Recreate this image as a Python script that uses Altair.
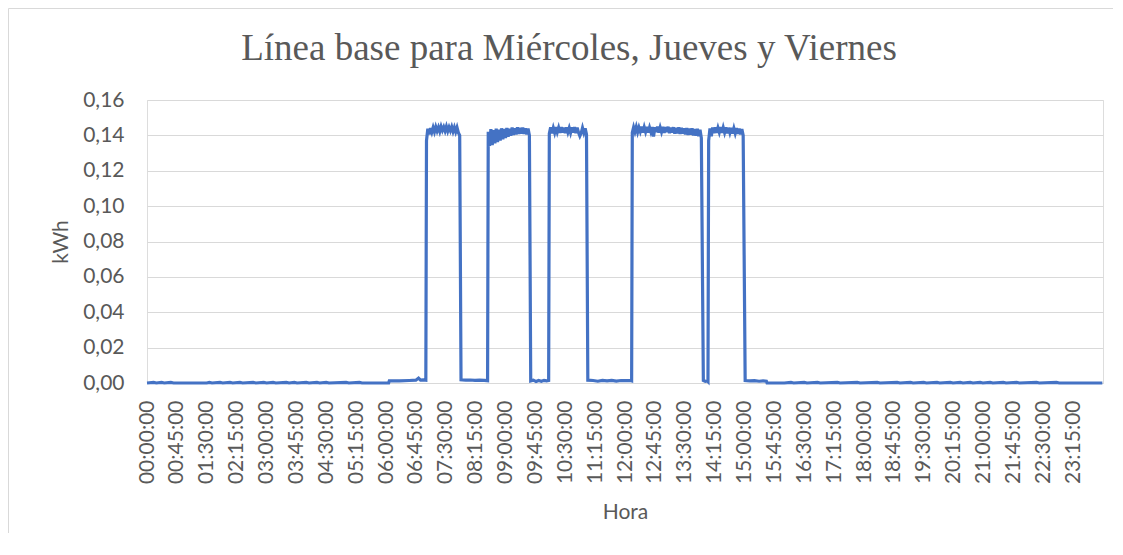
import altair as alt
import pandas as pd

# ---- low-load readings (minutes since midnight, kWh) ----
LOW_MIN = [
    0, 10, 14, 22, 26, 36, 40, 90, 94, 98, 110, 114, 125, 129, 140, 144, 160, 164,
    176, 180, 190, 194, 210, 214, 222, 226, 240, 244, 256, 260, 270, 274, 300, 304,
    320, 324, 364,
    365, 380, 395, 405, 409, 412, 416, 420,
    473, 480, 487, 494, 501, 508, 513,
    578, 582, 586, 590, 594, 598, 602, 605,
    664, 672, 679, 686, 693, 700, 707, 714, 721, 728, 730,
    838, 841, 844, 845,
    901, 908, 915, 922, 928, 933,
    934, 960, 970, 974, 990, 994, 1010, 1014, 1040, 1044, 1070, 1074, 1100, 1104,
    1130, 1134, 1150, 1154, 1170, 1174, 1190, 1194, 1210, 1214, 1225, 1229, 1240,
    1244, 1255, 1259, 1270, 1274, 1290, 1294, 1310, 1314, 1340, 1344, 1370, 1374,
    1439,
]
LOW_KWH = [
    0, 0.0003, 0, 0.0003, 0, 0.0003, 0, 0, 0.0003, 0, 0.0003, 0, 0.0003, 0, 0.0003, 0, 0.0003, 0,
    0.0003, 0, 0.0003, 0, 0.0003, 0, 0.0003, 0, 0.0003, 0, 0.0003, 0, 0.0003, 0, 0.0003, 0,
    0.0003, 0, 0,
    0.0012, 0.0012, 0.0014, 0.0016, 0.0028, 0.0016, 0.0018, 0.0016,
    0.0018, 0.0016, 0.0017, 0.0015, 0.0016, 0.0015, 0.0013,
    0.0012, 0.0016, 0.0008, 0.0014, 0.0010, 0.0015, 0.0012, 0.0014,
    0.0016, 0.0014, 0.0010, 0.0015, 0.0012, 0.0015, 0.0011, 0.0014, 0.0013, 0.0014, 0.0012,
    0.0015, 0.0010, 0.0012, 0.0008,
    0.0014, 0.0012, 0.0013, 0.0010, 0.0012, 0.0010,
    0, 0, 0.0003, 0, 0.0003, 0, 0.0003, 0, 0.0003, 0, 0.0003, 0, 0.0003, 0,
    0.0003, 0, 0.0003, 0, 0.0003, 0, 0.0003, 0, 0.0003, 0, 0.0003, 0, 0.0003,
    0, 0.0003, 0, 0.0003, 0, 0.0003, 0, 0.0003, 0, 0.0003, 0, 0.0003, 0,
    0,
]

# ---- high-load blocks: start minute, then one reading every 2 minutes ----
P1_START = 421
P1_KWH = [0.1370, 0.1438, 0.1405, 0.1442, 0.1418, 0.1445, 0.1420, 0.1448, 0.1425, 0.1446,
          0.1422, 0.1450, 0.1428, 0.1447, 0.1425, 0.1450, 0.1424, 0.1446, 0.1426, 0.1448,
          0.1422, 0.1445, 0.1420, 0.1444, 0.1415, 0.1400]
P2_START = 514
P2_KWH = [0.1420, 0.1340, 0.1435, 0.1345, 0.1430, 0.1355, 0.1438, 0.1362, 0.1432, 0.1370,
          0.1440, 0.1378, 0.1436, 0.1385, 0.1442, 0.1392, 0.1438, 0.1398, 0.1444, 0.1402,
          0.1440, 0.1405, 0.1445, 0.1408, 0.1442, 0.1410, 0.1444, 0.1408, 0.1440, 0.1405,
          0.1438, 0.1400]
P3_START = 606
P3_KWH = [0.1410, 0.1445, 0.1412, 0.1442, 0.1415, 0.1446, 0.1418, 0.1443, 0.1414, 0.1447,
          0.1416, 0.1444, 0.1412, 0.1446, 0.1418, 0.1442, 0.1415, 0.1445, 0.1415, 0.1447,
          0.1412, 0.1444, 0.1416, 0.1396, 0.1413, 0.1443, 0.1415, 0.1440, 0.1405]
P4_START = 731
P4_KWH = [0.1415, 0.1446, 0.1420, 0.1448, 0.1418, 0.1445, 0.1422, 0.1449, 0.1416, 0.1446,
          0.1420, 0.1448, 0.1415, 0.1444, 0.1419, 0.1447, 0.1394, 0.1446, 0.1418, 0.1450,
          0.1416, 0.1445, 0.1420, 0.1448, 0.1414, 0.1446, 0.1418, 0.1449, 0.1412, 0.1444,
          0.1415, 0.1446, 0.1410, 0.1443, 0.1412, 0.1445, 0.1408, 0.1442, 0.1410, 0.1440,
          0.1405, 0.1441, 0.1402, 0.1438, 0.1404, 0.1440, 0.1400, 0.1436, 0.1398, 0.1437,
          0.1395, 0.1432, 0.1385]
P5_START = 846
P5_KWH = [0.1370, 0.1440, 0.1395, 0.1445, 0.1412, 0.1446, 0.1415, 0.1443, 0.1418, 0.1447,
          0.1414, 0.1444, 0.1416, 0.1445, 0.1412, 0.1443, 0.1415, 0.1442, 0.1410, 0.1440,
          0.1412, 0.1441, 0.1408, 0.1438, 0.1405, 0.1436, 0.1400]

TICK_MINUTES = [i * 45 for i in range(32)]
Y_TICKS = [0, 0.02, 0.04, 0.06, 0.08, 0.10, 0.12, 0.14, 0.16]

TITLE = "Línea base para Miércoles, Jueves y Viernes"
X_TITLE = "Hora"
Y_TITLE = "kWh"

rows = list(zip(LOW_MIN, LOW_KWH))
for start, vals in [(P1_START, P1_KWH), (P2_START, P2_KWH), (P3_START, P3_KWH),
                    (P4_START, P4_KWH), (P5_START, P5_KWH)]:
    rows += [(start + 2 * i, v) for i, v in enumerate(vals)]
df = pd.DataFrame(rows, columns=["min", "kwh"]).sort_values("min").reset_index(drop=True)

GRAY_TXT = "#595959"
GRID = "#d9d9d9"
FONT = "Lato"

x_label_expr = (
    "(floor(datum.value/60) < 10 ? '0' : '') + floor(datum.value/60) + ':' + "
    "((datum.value % 60) < 10 ? '0' : '') + (datum.value % 60) + ':00'"
)

line = alt.Chart(df).mark_line(color="#4472C4", strokeWidth=3.2).encode(
    x=alt.X(
        "min:Q",
        sort=None,
        scale=alt.Scale(domain=[0, 1440], nice=False, zero=False),
        axis=alt.Axis(
            values=TICK_MINUTES,
            labelExpr=x_label_expr,
            labelAngle=270,
            labelPadding=17,
            labelFont=FONT,
            labelFontSize=21,
            labelColor=GRAY_TXT,
            labelOverlap=False,
            labelFlush=False,
            ticks=False,
            grid=False,
            domain=True,
            domainColor=GRID,
            domainWidth=1,
            title=X_TITLE,
            titleFont=FONT,
            titleFontSize=21,
            titleFontWeight="normal",
            titleColor=GRAY_TXT,
            titleBaseline="alphabetic",
            titleY=135,
        ),
    ),
    y=alt.Y(
        "kwh:Q",
        scale=alt.Scale(domain=[0, 0.16], nice=False),
        axis=alt.Axis(
            values=Y_TICKS,
            labelExpr="replace(format(datum.value, '.2f'), '.', ',')",
            labelPadding=23,
            labelFont=FONT,
            labelFontSize=21,
            labelColor=GRAY_TXT,
            ticks=False,
            domain=False,
            grid=True,
            gridColor=GRID,
            gridWidth=1,
            title=Y_TITLE,
            titleFont=FONT,
            titleFontSize=21,
            titleFontWeight="normal",
            titleColor=GRAY_TXT,
            titleBaseline="alphabetic",
            titleX=-80,
        ),
    ),
    order="min:Q",
)

deco = alt.Data(values=[{"t": TITLE}])
left_border = alt.Chart(deco).mark_rule(color=GRID, strokeWidth=1).encode(
    x=alt.value(-138.5), y=alt.value(-91.5), y2=alt.value(440)
)
top_border = alt.Chart(deco).mark_rule(color=GRID, strokeWidth=1).encode(
    x=alt.value(-138.5), x2=alt.value(966), y=alt.value(-91.5)
)
title_text = alt.Chart(deco).mark_text(
    font="Liberation Serif",
    fontSize=37,
    color=GRAY_TXT,
    align="center",
    baseline="alphabetic",
).encode(x=alt.value(422), y=alt.value(-40), text="t:N")

chart = (
    alt.layer(left_border, top_border, title_text, line)
    .properties(
        width=956,
        height=283,
        autosize=alt.AutoSizeParams(type="none"),
        padding={"left": 139, "top": 92, "right": 12, "bottom": 150},
    )
    .configure_view(stroke=None)
    .configure(background="white")
)

chart.save("out.html", embed_options={"renderer": "svg", "actions": False})
